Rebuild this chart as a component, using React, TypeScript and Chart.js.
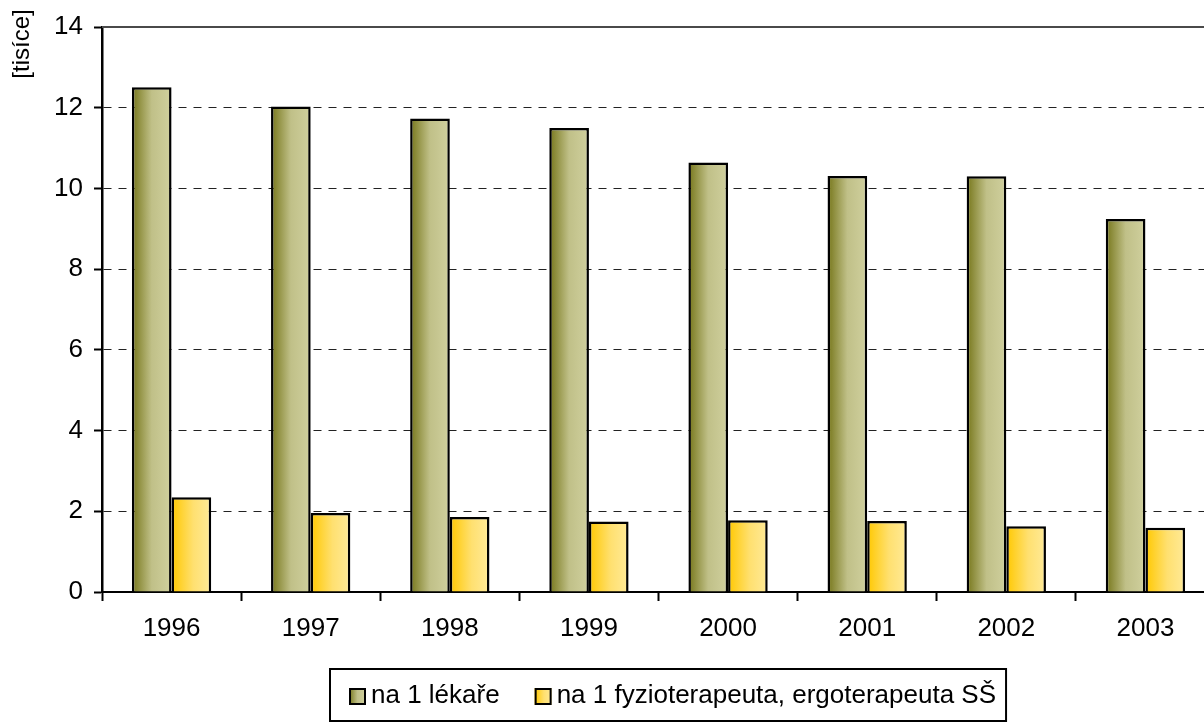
import React, { useEffect, useRef } from 'react';
import { Chart, registerables } from 'chart.js';

Chart.register(...registerables);

const categories = ['1996', '1997', '1998', '1999', '2000', '2001', '2002', '2003'];
const perDoctor = [12.51, 12.03, 11.73, 11.5, 10.64, 10.31, 10.3, 9.24];
const perPhysio = [2.35, 1.96, 1.86, 1.75, 1.78, 1.76, 1.63, 1.59];
const seriesNames = ['na 1 lékaře', 'na 1 fyzioterapeuta, ergoterapeuta SŠ'];
const yTicks = [0, 2, 4, 6, 8, 10, 12, 14];
const yAxisTitle = '[tisíce]';

const FONT = "'Liberation Sans', Arial, Helvetica, sans-serif";
const FS = 26;
const CAT_PCT = 0.57;

const gradStops: [number, string][][] = [
  [[0, '#76761a'], [0.5, '#c0c088'], [1, '#d0d09e']],
  [[0, '#ffc800'], [0.55, '#ffe070'], [1, '#ffea98']],
];

function makeGradient(ctx: CanvasRenderingContext2D, x0: number, x1: number, idx: number) {
  const g = ctx.createLinearGradient(x0, 0, x1, 0);
  for (const [o, c] of gradStops[idx]) g.addColorStop(o, c);
  return g;
}

function barFill(idx: number) {
  return (c: any) => {
    const chart = c.chart;
    const xs = chart.scales && chart.scales.x;
    if (!xs || c.dataIndex === undefined || !chart.chartArea) return gradStops[idx][1][1];
    const center = xs.getPixelForValue(c.dataIndex);
    const catW = xs.width / categories.length;
    const gw = catW * CAT_PCT;
    const bw = gw / 2;
    const left = center - gw / 2 + idx * bw;
    return makeGradient(chart.ctx, left, left + bw, idx);
  };
}

const decorPlugin = {
  id: 'decor',
  afterDraw(chart: any) {
    const { ctx, chartArea: a } = chart;
    ctx.save();
    // top border of plot area
    ctx.strokeStyle = '#4a4a4a';
    ctx.lineWidth = 2;
    ctx.beginPath();
    ctx.moveTo(a.left, a.top);
    ctx.lineTo(a.right + 2, a.top);
    ctx.stroke();

    // y-axis title (top-left, rotated)
    ctx.save();
    ctx.translate(22, 44);
    ctx.rotate(-Math.PI / 2);
    ctx.font = `${FS - 2}px ${FONT}`;
    ctx.fillStyle = '#000';
    ctx.textAlign = 'center';
    ctx.textBaseline = 'middle';
    ctx.fillText(yAxisTitle, 0, 0);
    ctx.restore();

    // legend box
    ctx.font = `${FS}px ${FONT}`;
    const marker = 17;
    const padL = 19;
    const padR = 10;
    const gap = 5;
    const itemGap = 35;
    const w0 = ctx.measureText(seriesNames[0]).width;
    const w1 = ctx.measureText(seriesNames[1]).width;
    const total = padL + marker + gap + w0 + itemGap + marker + gap + w1 + padR;
    const left = 330;
    const top = 669;
    const h = 52;
    const cy = top + h / 2 + 1;
    ctx.fillStyle = '#fff';
    ctx.fillRect(left, top, total, h);
    ctx.strokeStyle = '#000';
    ctx.lineWidth = 2;
    ctx.strokeRect(left, top, total, h);

    let x = left + padL;
    const widths = [w0, w1];
    for (let i = 0; i < 2; i++) {
      const my = Math.round(cy - marker / 2);
      ctx.fillStyle = makeGradient(ctx, x, x + marker, i);
      ctx.fillRect(x, my, marker, marker);
      ctx.strokeStyle = '#000';
      ctx.lineWidth = 2;
      ctx.strokeRect(x + 1, my + 1, marker - 2, marker - 2);
      x += marker + gap;
      ctx.fillStyle = '#000';
      ctx.textAlign = 'left';
      ctx.textBaseline = 'middle';
      ctx.fillText(seriesNames[i], x, cy);
      x += widths[i] + itemGap;
    }
    ctx.restore();
  },
};

export default function App() {
  const ref = useRef<HTMLCanvasElement | null>(null);

  useEffect(() => {
    if (!ref.current) return;
    const chart = new Chart(ref.current, {
      type: 'bar',
      data: {
        labels: categories,
        datasets: [
          {
            label: seriesNames[0],
            data: perDoctor,
            backgroundColor: barFill(0),
            borderColor: '#000',
            borderWidth: 2.5,
            categoryPercentage: CAT_PCT,
            barPercentage: 1,
          },
          {
            label: seriesNames[1],
            data: perPhysio,
            backgroundColor: barFill(1),
            borderColor: '#000',
            borderWidth: 2.5,
            categoryPercentage: CAT_PCT,
            barPercentage: 1,
          },
        ],
      },
      options: {
        animation: false,
        responsive: false,
        devicePixelRatio: 1,
        layout: { padding: { top: 27, right: 1, left: 0, bottom: 0 } },
        plugins: {
          legend: { display: false },
          tooltip: { enabled: false },
          title: { display: false },
        },
        scales: {
          x: {
            offset: true,
            grid: {
              display: true,
              drawOnChartArea: false,
              offset: true,
              tickLength: 9,
              tickColor: '#000',
              tickWidth: 2,
            },
            border: { display: true, color: '#000', width: 2 },
            ticks: {
              color: '#000',
              font: { family: FONT, size: FS },
              padding: 12,
              maxRotation: 0,
              autoSkip: false,
            },
            afterFit: (s: any) => {
              s.height = 132;
            },
          },
          y: {
            min: 0,
            max: 14,
            afterBuildTicks: (s: any) => {
              s.ticks = yTicks.map((v) => ({ value: v }));
            },
            grid: {
              color: (c: any) =>
                c.tick && (c.tick.value === 0 || c.tick.value === 14) ? 'rgba(0,0,0,0)' : '#222',
              lineWidth: 1,
              tickLength: 8,
              tickColor: '#000',
              tickWidth: 2,
            },
            border: { display: true, color: '#000', width: 2.5, dash: [8, 7] },
            ticks: {
              color: '#000',
              font: { family: FONT, size: FS },
              padding: 11,
            },
            afterFit: (s: any) => {
              s.width = 102;
            },
          },
        },
      },
      plugins: [decorPlugin],
    });
    return () => chart.destroy();
  }, []);

  return (
    <div
      style={{
        position: 'fixed',
        left: 0,
        top: 0,
        width: 1204,
        height: 724,
        overflow: 'hidden',
        background: '#fff',
      }}
    >
      <canvas ref={ref} width={1216} height={724} style={{ display: 'block', width: 1216, height: 724 }} />
    </div>
  );
}
